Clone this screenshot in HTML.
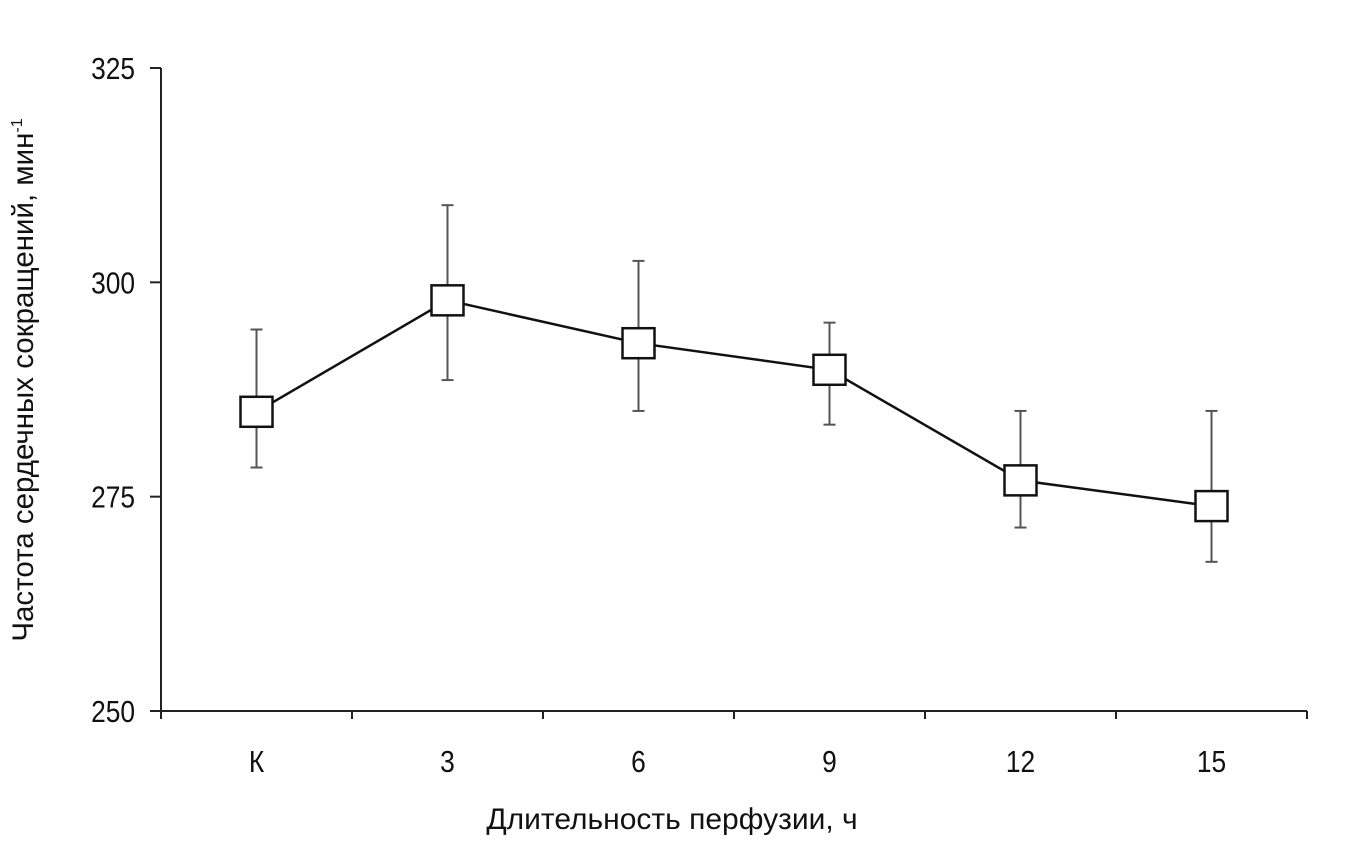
<!DOCTYPE html>
<html><head><meta charset="utf-8"><style>
body{margin:0;background:#fff;}
svg text{font-family:"Liberation Sans Narrow","Liberation Sans",sans-serif;fill:#111;}
</style></head><body>
<svg width="1360" height="855" viewBox="0 0 1360 855" xmlns="http://www.w3.org/2000/svg">
<g id="axes"></g>
<g id="marks"></g>
<text transform="translate(33,380) rotate(-90)" text-anchor="middle" font-size="29.5">Частота сердечных сокращений, мин<tspan font-size="16" dy="-11">-1</tspan></text>
<text x="672" y="829" text-anchor="middle" font-size="30">Длительность перфузии, ч</text>
</svg>
<script>
const categories=["К","3","6","9","12","15"];
const values=[284.9,297.9,292.9,289.8,276.9,273.9];
const errTop=[294.5,309,302.5,295.3,285,285];
const errBottom=[278.4,288.6,285,283.4,271.4,267.4];
const yTicks=[250,275,300,325];
const NS="http://www.w3.org/2000/svg";
const x0=161,x1=1307,y0=711,y1=68,ymin=250,ymax=325;
const xs=i=>x0+(x1-x0)/categories.length*(i+0.5);
const ys=v=>y0-(v-ymin)/(ymax-ymin)*(y0-y1);
function mk(tag,attrs,parent){const e=document.createElementNS(NS,tag);for(const k in attrs)e.setAttribute(k,attrs[k]);parent.appendChild(e);return e;}
const ax=document.getElementById('axes'),mg=document.getElementById('marks');
let l=mk('line',{x1:x0,y1:y1,x2:x0,y2:y0,stroke:'#222','stroke-width':2},ax);


l=mk('line',{x1:x0,y1:y0,x2:x1,y2:y0,stroke:'#222','stroke-width':2},ax);


yTicks.forEach(v=>{
 const t=mk('line',{x1:x0-11,y1:ys(v),x2:x0,y2:ys(v),stroke:'#222','stroke-width':2},ax);
 
 
 const tx=mk('text',{transform:'translate(135,'+(ys(v)+11)+') scale(0.85,1)','text-anchor':'end','font-size':31},ax);
 tx.textContent=v;
 
 
});
for(let i=0;i<=categories.length;i++){
 const xx=x0+(x1-x0)/categories.length*i;
 const t=mk('line',{x1:xx,y1:y0,x2:xx,y2:y0+8,stroke:'#222','stroke-width':2},ax);
 
 
}
categories.forEach((c,i)=>{
 const tx=mk('text',{transform:'translate('+xs(i)+',772) scale(0.85,1)','text-anchor':'middle','font-size':31},ax);
 tx.textContent=c;
 
 
});
categories.forEach((c,i)=>{
 const g=mk('g',{},mg);
 
 
 mk('line',{x1:xs(i),y1:ys(errTop[i]),x2:xs(i),y2:ys(errBottom[i]),stroke:'#555','stroke-width':2},g);
 mk('line',{x1:xs(i)-6,y1:ys(errTop[i]),x2:xs(i)+6,y2:ys(errTop[i]),stroke:'#555','stroke-width':2},g);
 mk('line',{x1:xs(i)-6,y1:ys(errBottom[i]),x2:xs(i)+6,y2:ys(errBottom[i]),stroke:'#555','stroke-width':2},g);
});
const p=mk('polyline',{points:values.map((v,i)=>xs(i)+','+ys(v)).join(' '),fill:'none',stroke:'#111','stroke-width':2.5},mg);


values.forEach((v,i)=>{
 const r=mk('rect',{x:xs(i)-16,y:ys(v)-15,width:32,height:30,fill:'#fff',stroke:'#111','stroke-width':2.5},mg);
 
 
});
</script>
</body></html>
